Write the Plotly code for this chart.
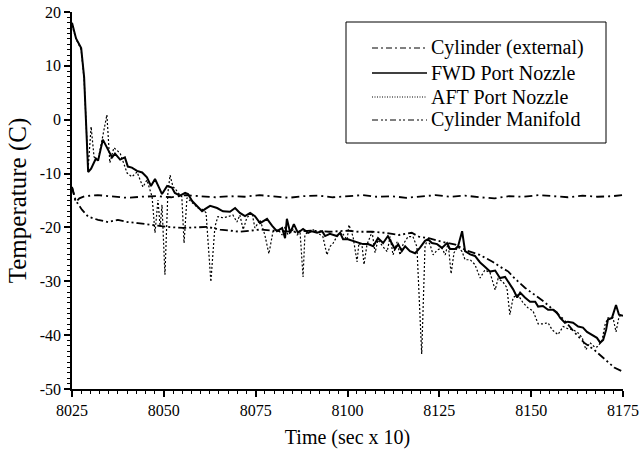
import plotly.graph_objects as go

# ---------------- data ----------------
fwd_t = [8025.0, 8025.5, 8026.1, 8027.5, 8028.3, 8029.4, 8030.2, 8031.5, 8032.1, 8033.4,
         8034.8, 8035.9, 8036.7, 8038.1, 8039.4, 8040.2, 8041.3, 8042.7, 8044.1, 8045.4,
         8046.5, 8047.6, 8048.7, 8049.5, 8050.9, 8052.2, 8053.0, 8054.4, 8055.8, 8056.6,
         8057.7, 8059.0, 8060.4, 8061.2, 8062.6, 8064.5, 8066.1, 8068.0, 8069.4, 8070.7,
         8072.1, 8073.5, 8074.8, 8076.2, 8078.1, 8079.5, 8080.8, 8082.2, 8083.0, 8083.5,
         8084.4, 8085.4, 8086.5, 8087.9, 8089.3, 8090.3, 8091.7, 8093.1, 8093.9, 8095.2,
         8097.1, 8098.0, 8098.8, 8100.1, 8101.5, 8103.4, 8104.2, 8105.6, 8107.0, 8108.3,
         8109.7, 8111.0, 8112.1, 8112.9, 8113.8, 8114.8, 8115.7, 8117.0, 8118.4, 8119.7,
         8121.1, 8121.9, 8123.0, 8124.4, 8125.7, 8127.1, 8127.9, 8129.3, 8130.1, 8131.2,
         8132.0, 8133.4, 8134.7, 8136.1, 8137.4, 8138.8, 8140.2, 8141.5, 8142.9, 8144.2,
         8145.1, 8146.2, 8147.0, 8148.3, 8149.7, 8151.1, 8151.9, 8153.2, 8154.6, 8156.0,
         8157.0, 8157.9, 8159.2, 8160.0, 8161.4, 8162.8, 8164.1, 8165.2, 8166.6, 8167.9,
         8168.8, 8169.6, 8170.4, 8170.9, 8172.0, 8173.1, 8173.9, 8175.0]
fwd_v = [18.0, 16.5, 15.1, 13.3, 7.9, -9.7, -9.1, -7.2, -7.6, -3.7,
         -5.4, -7.0, -6.3, -7.4, -7.0, -8.7, -8.9, -9.5, -9.8, -10.7,
         -12.3, -11.0, -12.6, -13.8, -12.3, -12.6, -13.6, -14.1, -13.6, -13.8,
         -15.1, -16.0, -17.0, -16.6, -16.0, -16.4, -17.0, -17.1, -16.4, -17.3,
         -17.9, -17.3, -17.9, -19.2, -18.4, -19.7, -20.7, -20.1, -22.0, -18.4,
         -21.0, -19.4, -21.0, -20.3, -21.0, -20.7, -21.0, -20.7, -21.6, -21.2,
         -21.6, -21.0, -22.2, -22.2, -22.5, -22.9, -23.1, -23.1, -23.5, -22.0,
         -22.9, -21.6, -23.1, -24.0, -23.1, -24.4, -23.5, -24.4, -24.8, -23.8,
         -22.5, -22.2, -22.9, -23.1, -23.8, -22.9, -24.0, -24.0, -23.5, -20.7,
         -24.4, -25.0, -25.3, -26.5, -27.3, -28.2, -28.0, -29.4, -29.2, -30.5,
         -31.5, -33.0, -32.1, -33.0, -33.8, -33.8, -34.7, -34.6, -35.3, -35.3,
         -35.8, -36.8, -37.7, -37.5, -37.7, -38.4, -38.6, -39.4, -39.9, -40.5,
         -41.4, -40.9, -39.0, -37.1, -36.8, -34.4, -36.2, -36.4]

aft_t = [8025.0, 8026.1, 8027.5, 8028.3, 8029.4, 8030.2, 8031.0, 8032.1, 8034.5, 8035.3,
         8036.4, 8038.1, 8040.0, 8041.3, 8042.7, 8044.3, 8045.4, 8046.8, 8047.6, 8048.4,
         8049.0, 8049.5, 8050.3, 8051.1, 8051.7, 8052.5, 8053.0, 8053.9, 8054.9, 8055.5,
         8056.3, 8057.7, 8059.3, 8060.7, 8061.5, 8062.8, 8063.9, 8064.7, 8066.1, 8067.5,
         8068.8, 8069.9, 8070.7, 8071.6, 8072.6, 8074.0, 8074.8, 8076.2, 8077.5, 8078.6,
         8079.7, 8081.1, 8082.2, 8083.0, 8083.8, 8085.2, 8086.3, 8087.1, 8087.9, 8088.4,
         8089.3, 8090.6, 8092.0, 8093.3, 8094.4, 8095.2, 8096.1, 8097.1, 8098.5, 8099.9,
         8100.4, 8101.5, 8102.6, 8103.1, 8104.0, 8104.5, 8105.3, 8106.7, 8107.5, 8108.3,
         8109.7, 8110.8, 8111.6, 8112.4, 8113.5, 8114.3, 8115.1, 8116.5, 8117.8, 8118.9,
         8120.2, 8121.1, 8121.7, 8122.5, 8123.3, 8124.4, 8125.7, 8126.6, 8127.4, 8128.2,
         8129.0, 8130.1, 8131.2, 8132.0, 8133.4, 8134.7, 8136.1, 8137.4, 8138.8, 8140.2,
         8141.0, 8142.3, 8143.4, 8144.2, 8145.1, 8146.4, 8147.8, 8149.1, 8150.5, 8151.9,
         8153.2, 8154.6, 8155.7, 8157.3, 8158.7, 8160.0, 8161.4, 8162.8, 8163.9, 8164.9,
         8166.0, 8167.4, 8168.2, 8169.3, 8170.1, 8170.9, 8172.3, 8173.1, 8173.9, 8174.7]
aft_v = [17.5, 15.0, 13.0, 7.5, -9.0, -1.3, -6.9, -7.5, 0.9, -8.0,
         -5.2, -6.2, -9.9, -10.6, -9.7, -12.5, -11.2, -14.3, -21.0, -14.9,
         -19.9, -15.8, -28.8, -13.6, -10.3, -12.5, -12.7, -13.6, -14.3, -22.9,
         -14.5, -15.4, -16.4, -16.7, -17.3, -30.1, -19.9, -18.0, -18.2, -18.0,
         -17.7, -19.0, -17.7, -20.4, -18.2, -17.3, -20.1, -18.6, -21.4, -24.9,
         -20.8, -20.4, -21.4, -19.9, -21.4, -20.4, -21.4, -21.0, -29.2, -21.4,
         -20.8, -20.4, -21.0, -21.7, -25.1, -23.6, -22.9, -21.7, -21.0, -22.3,
         -19.5, -21.7, -26.4, -22.9, -23.6, -26.9, -23.2, -20.8, -24.7, -22.3,
         -23.6, -24.5, -21.7, -25.1, -22.7, -25.1, -23.2, -21.7, -21.7, -23.6,
         -43.5, -23.6, -22.3, -23.2, -25.1, -24.2, -23.8, -25.1, -22.9, -28.6,
         -24.7, -23.6, -24.5, -26.0, -26.0, -26.9, -29.4, -27.9, -28.4, -31.6,
         -29.5, -30.1, -31.2, -36.2, -33.0, -32.5, -34.0, -34.9, -35.5, -37.9,
         -37.9, -37.7, -39.0, -39.9, -38.4, -38.8, -39.0, -39.6, -40.5, -42.7,
         -41.4, -42.3, -42.1, -40.9, -38.1, -36.8, -36.8, -39.4, -36.6, -36.2]

ext_t = [8025.0, 8026.0, 8027.0, 8028.5, 8032, 8036, 8040, 8044, 8048, 8052,
         8056, 8060, 8064, 8068, 8072, 8076, 8080, 8084, 8088, 8092,
         8096, 8100, 8104, 8108, 8112, 8116, 8120, 8124, 8128, 8132,
         8136, 8140, 8144, 8148, 8152, 8156, 8160, 8164, 8168, 8172, 8175]
ext_v = [-12.5, -15.3, -14.6, -14.2, -14.0, -14.3, -14.5, -14.3, -14.2, -14.4,
         -14.0, -14.2, -14.4, -14.2, -14.3, -14.0, -14.3, -14.5, -14.2, -14.1,
         -14.4, -14.2, -14.0, -14.3, -14.2, -14.5, -14.2, -14.0, -14.3, -14.1,
         -14.4, -14.6, -14.2, -14.3, -14.0, -14.2, -14.4, -14.1, -14.3, -14.2, -14.0]

man_t = [8025.0, 8026.0, 8027.7, 8029.4, 8032.1, 8034.8, 8037.5, 8040.2, 8042.9, 8046.2,
         8050.9, 8055.2, 8057.9, 8061.8, 8065.3, 8068.0, 8070.7, 8073.5, 8076.2, 8080.0,
         8085.0, 8090.0, 8095.0, 8100.0, 8103.0, 8106.7, 8110.2, 8114.0, 8117.5, 8119.4,
         8122.1, 8125.9, 8129.4, 8132.1, 8136.0, 8139.6, 8141.5, 8143.8, 8145.1, 8148.3,
         8151.4, 8153.5, 8156.2, 8159.0, 8161.7, 8164.4, 8167.1, 8170.9, 8172.6, 8175.0]
man_v = [-12.5, -15.0, -16.7, -18.0, -18.6, -19.0, -18.6, -19.0, -19.2, -19.5,
         -19.9, -20.1, -20.0, -19.9, -20.4, -20.6, -20.8, -20.6, -20.4, -20.6,
         -20.8, -20.6, -20.8, -20.6, -20.8, -20.8, -21.0, -21.4, -21.0, -21.7,
         -22.0, -22.7, -23.2, -24.2, -25.1, -26.4, -27.3, -28.2, -29.2, -31.2,
         -32.8, -33.8, -35.4, -37.2, -39.4, -41.4, -42.7, -45.0, -46.0, -46.8]

series_names = ["Cylinder (external)", "FWD Port Nozzle", "AFT Port Nozzle", "Cylinder Manifold"]
x_ticks = [8025, 8050, 8075, 8100, 8125, 8150, 8175]
y_ticks = [20, 10, 0, -10, -20, -30, -40, -50]

FONT = "Liberation Serif, Times New Roman, serif"

# line styles (plot) and legend sample styles
plot_styles = [dict(color="black", width=1.8, dash="8px,4px,2px,4px"),
               dict(color="black", width=2),
               dict(color="black", width=1.2, dash="2px,2px"),
               dict(color="black", width=1.8, dash="8px,3px,2px,3px,2px,3px")]
legend_styles = [dict(color="black", width=1, dash="6px,3px,2px,3px"),
                 dict(color="black", width=1.3),
                 dict(color="black", width=1, dash="1px,1.5px"),
                 dict(color="black", width=1, dash="6px,3px,2px,2px,2px,3px")]

series = [(ext_t, ext_v), (fwd_t, fwd_v), (aft_t, aft_v), (man_t, man_v)]

fig = go.Figure()
for (t, v), name, st in zip(series, series_names, plot_styles):
    fig.add_trace(go.Scatter(x=t, y=v, mode="lines", name=name, line=st, showlegend=False))

# ---- legend box drawn in plot-paper coordinates ----
# plot area: x 72..623 px, y 12..389 px (551 x 377)
def px_x(p):
    return (p - 72) / 551.0

def px_y(p):
    return (389 - p) / 377.0

shapes = [dict(type="rect", xref="paper", yref="paper",
               x0=px_x(346), x1=px_x(606), y0=px_y(143), y1=px_y(22),
               line=dict(color="black", width=1), fillcolor="white", layer="above")]
annotations = []
row_y = [48, 73, 97, 120]
for name, st, ry in zip(series_names, legend_styles, row_y):
    shapes.append(dict(type="line", xref="paper", yref="paper",
                       x0=px_x(372), x1=px_x(427), y0=px_y(ry), y1=px_y(ry),
                       line=st, layer="above"))
    annotations.append(dict(text=name, xref="paper", yref="paper",
                            x=px_x(429), y=px_y(ry), xanchor="left", yanchor="middle",
                            showarrow=False, font=dict(family=FONT, size=20, color="black")))

fig.update_layout(
    width=639, height=456,
    margin=dict(l=72, r=16, t=12, b=67),
    paper_bgcolor="white", plot_bgcolor="white",
    font=dict(family=FONT, color="black", size=16),
    showlegend=False,
    shapes=shapes,
    annotations=annotations,
    xaxis=dict(range=[8025, 8175], tickvals=x_ticks, ticktext=[str(v) for v in x_ticks],
               automargin=False,
               showgrid=False, zeroline=False, showline=True, linecolor="black", linewidth=1.5,
               ticks="outside", ticklen=6, tickwidth=1.5, tickcolor="black",
               minor=dict(dtick=2.5, tick0=8025, ticks="outside", ticklen=3.5, tickwidth=1, tickcolor="black"),
               tickfont=dict(family=FONT, size=16),
               title=dict(text="Time (sec x 10)", font=dict(family=FONT, size=20), standoff=12)),
    yaxis=dict(range=[-50, 20], tickvals=y_ticks, ticktext=[str(v) for v in y_ticks],
               automargin=False,
               showgrid=False, zeroline=False, showline=True, linecolor="black", linewidth=1.5,
               ticks="outside", ticklen=6, tickwidth=1.5, tickcolor="black",
               minor=dict(dtick=1, tick0=0, ticks="outside", ticklen=3.5, tickwidth=1, tickcolor="black"),
               tickfont=dict(family=FONT, size=16),
               title=dict(text="Temperature (C)", font=dict(family=FONT, size=25), standoff=6)),
)

fig.write_html("out.html")
